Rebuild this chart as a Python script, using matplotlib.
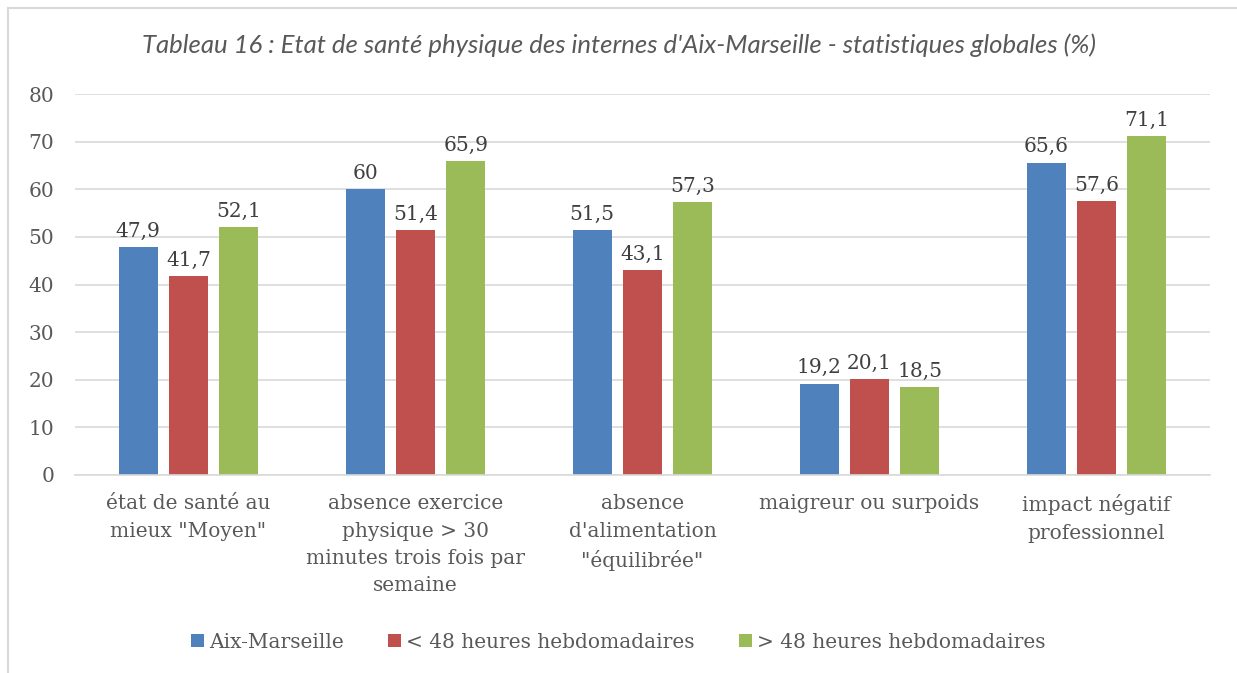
import matplotlib.pyplot as plt
import numpy as np
from matplotlib.lines import Line2D

categories = [
    'état de santé au\nmieux "Moyen"',
    "absence exercice\nphysique > 30\nminutes trois fois par\nsemaine",
    "absence\nd'alimentation\n\"équilibrée\"",
    "maigreur ou surpoids",
    "impact négatif\nprofessionnel",
]
series_names = ["Aix-Marseille", "< 48 heures hebdomadaires", "> 48 heures hebdomadaires"]
aix = [47.9, 60, 51.5, 19.2, 65.6]
moins48 = [41.7, 51.4, 43.1, 20.1, 57.6]
plus48 = [52.1, 65.9, 57.3, 18.5, 71.1]
y_ticks = [0, 10, 20, 30, 40, 50, 60, 70, 80]

colors = ["#4F81BD", "#C0504D", "#9BBB59"]
text_color = "#595959"
serif = ["DejaVu Serif"]
fs = 14.5


def fmt(v):
    s = f"{v:g}"
    return s.replace(".", ",")


def main() -> None:
    fig = plt.figure(figsize=(12.37, 6.73), dpi=100)
    ax = fig.add_axes([75 / 1237, 1 - 475 / 673, 1135 / 1237, 381 / 673])

    x = np.arange(len(categories))
    width = 0.172
    step = 0.222
    for i, (vals, name) in enumerate(zip([aix, moins48, plus48], series_names)):
        pos = x + (i - 1) * step
        bars = ax.bar(pos, vals, width, color=colors[i], label=name, zorder=3)
        for b, v in zip(bars, vals):
            ax.text(b.get_x() + b.get_width() / 2, v + 1.3, fmt(v),
                    ha="center", va="bottom", fontsize=fs, color="#404040",
                    family=serif)

    ax.set_xlim(-0.5, len(categories) - 0.5)
    ax.set_ylim(0, 80)
    ax.set_yticks(y_ticks)
    ax.set_yticklabels([str(t) for t in y_ticks], family=serif, fontsize=fs,
                       color=text_color)
    ax.set_xticks(x)
    ax.set_xticklabels(categories, family=serif, fontsize=fs, color=text_color,
                       linespacing=1.55)
    ax.tick_params(axis="both", length=0)
    ax.tick_params(axis="y", pad=15)
    ax.tick_params(axis="x", pad=14)
    ax.grid(axis="y", color="#D9D9D9", linewidth=1.2, zorder=0)
    for side in ["left", "right", "top"]:
        ax.spines[side].set_visible(False)
    ax.spines["bottom"].set_color("#D9D9D9")
    ax.spines["bottom"].set_linewidth(1.2)
    ax.spines["bottom"].set_zorder(4)

    fig.text(0.5, 1 - 45 / 673,
             "Tableau 16 : Etat de santé physique des internes d'Aix-Marseille - statistiques globales (%)",
             ha="center", va="center", fontsize=18.5, style="italic",
             color=text_color, family=["Lato", "DejaVu Sans"])

    leg = fig.legend(loc="center", bbox_to_anchor=(0.5, 1 - 642 / 673), ncol=3,
                     frameon=False, handlelength=0.65, handleheight=0.65,
                     handletextpad=0.25, columnspacing=2.2,
                     prop={"family": serif, "size": fs})
    for t in leg.get_texts():
        t.set_color(text_color)

    # chart border (left and top edges visible)
    fig.add_artist(Line2D([8 / 1237, 8 / 1237], [0, 1 - 8 / 673],
                          transform=fig.transFigure, color="#D9D9D9", linewidth=1.5))
    fig.add_artist(Line2D([8 / 1237, 1], [1 - 8 / 673, 1 - 8 / 673],
                          transform=fig.transFigure, color="#D9D9D9", linewidth=1.5))

    fig.savefig("out.png", dpi=100)


if __name__ == "__main__":
    main()
